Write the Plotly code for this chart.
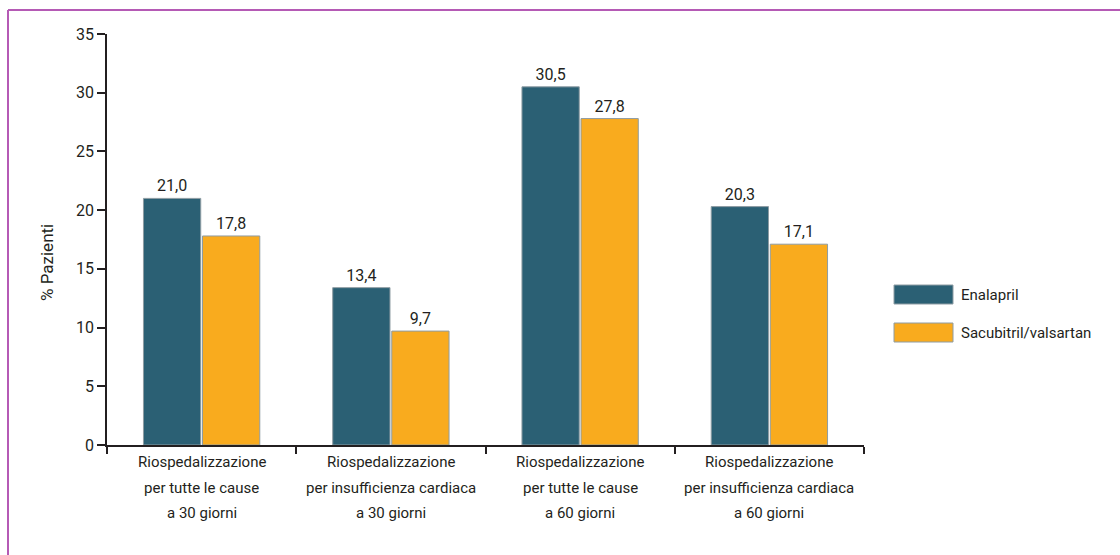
import plotly.graph_objects as go

# Data
categories = [
    "Riospedalizzazione<br>per tutte le cause<br>a 30 giorni",
    "Riospedalizzazione<br>per insufficienza cardiaca<br>a 30 giorni",
    "Riospedalizzazione<br>per tutte le cause<br>a 60 giorni",
    "Riospedalizzazione<br>per insufficienza cardiaca<br>a 60 giorni",
]
enalapril = [21.0, 13.4, 30.5, 20.3]
sacubitril = [17.8, 9.7, 27.8, 17.1]
series_names = ["Enalapril", "Sacubitril/valsartan"]
y_ticks = [0, 5, 10, 15, 20, 25, 30, 35]
y_title = "% Pazienti"

COL_ENA = "#2b6074"
COL_SAC = "#f9ab1e"
EDGE = "#8e9ca3"
INK = "#231f20"
FONT = "Roboto, Liberation Sans, sans-serif"

# Plot-area geometry in pixels (used for paper-coordinate decorations)
W, H = 1120, 555
L, R, T, B = 107, 864, 34, 445


def px_x(x):
    return (x - L) / (R - L)


def px_y(y):
    return (B - y) / (B - T)


def fmt(v):
    return f"{v:.1f}".replace(".", ",")


fig = go.Figure()
for name, vals, col in [(series_names[0], enalapril, COL_ENA),
                        (series_names[1], sacubitril, COL_SAC)]:
    fig.add_trace(go.Bar(
        name=name,
        x=categories,
        y=vals,
        text=[fmt(v) for v in vals],
        textposition="outside",
        cliponaxis=False,
        textfont=dict(family=FONT, size=16, color=INK),
        marker=dict(color=col, line=dict(color=EDGE, width=1)),
    ))

shapes = []
annotations = []

# Category labels, one annotation per line for wider line spacing
line_centres = [462, 488, 513]
for cat in categories:
    for k, line in enumerate(cat.split("<br>")):
        annotations.append(dict(xref="x", yref="paper", x=cat, y=px_y(line_centres[k]),
                                text=line, showarrow=False, xanchor="center", yanchor="middle",
                                font=dict(family=FONT, size=15, color=INK)))

# Vertical axis title
annotations.append(dict(xref="paper", yref="paper", x=px_x(47), y=px_y(263),
                        text=y_title, textangle=-90, showarrow=False,
                        xanchor="center", yanchor="middle",
                        font=dict(family=FONT, size=17, color=INK)))

# Legend drawn as large swatches beside the plot
legend_rows = [(series_names[0], COL_ENA, 285, 304), (series_names[1], COL_SAC, 323, 342)]
for name, col, y0, y1 in legend_rows:
    shapes.append(dict(type="rect", xref="paper", yref="paper",
                       x0=px_x(894), x1=px_x(953), y0=px_y(y1), y1=px_y(y0),
                       fillcolor=col, line=dict(color=EDGE, width=1)))
    annotations.append(dict(xref="paper", yref="paper", x=px_x(959), y=px_y((y0 + y1) / 2),
                            text=name, showarrow=False, xanchor="left", yanchor="middle",
                            font=dict(family=FONT, size=15, color=INK)))

# Magenta frame along top and left edges
FRAME = "#b55ab5"
shapes.append(dict(type="line", xref="paper", yref="paper",
                   x0=px_x(8), x1=px_x(W + 5), y0=px_y(10), y1=px_y(10),
                   line=dict(color=FRAME, width=2)))
shapes.append(dict(type="line", xref="paper", yref="paper",
                   x0=px_x(8), x1=px_x(8), y0=px_y(10), y1=px_y(H + 5),
                   line=dict(color=FRAME, width=2)))

fig.update_layout(
    width=W, height=H,
    margin=dict(l=L, r=W - R, t=T, b=H - B, pad=0, autoexpand=False),
    paper_bgcolor="white", plot_bgcolor="white",
    barmode="group", bargap=0.376, bargroupgap=0.03,
    showlegend=False,
    font=dict(family=FONT, size=16, color=INK),
    shapes=shapes,
    annotations=annotations,
    xaxis=dict(
        showline=True, linecolor=INK, linewidth=1.5,
        ticks="outside", tickson="boundaries", ticklen=7, tickwidth=1.5, tickcolor=INK,
        showticklabels=False, automargin=False,
        showgrid=False, zeroline=False,
    ),
    yaxis=dict(
        range=[0, 35], tickvals=y_ticks,
        showline=True, linecolor=INK, linewidth=1.5,
        ticks="outside", ticklen=8, tickwidth=1.5, tickcolor=INK,
        tickfont=dict(family=FONT, size=16, color=INK), automargin=False,
        showgrid=False, zeroline=False,
    ),
)

fig.write_html("out.html")
